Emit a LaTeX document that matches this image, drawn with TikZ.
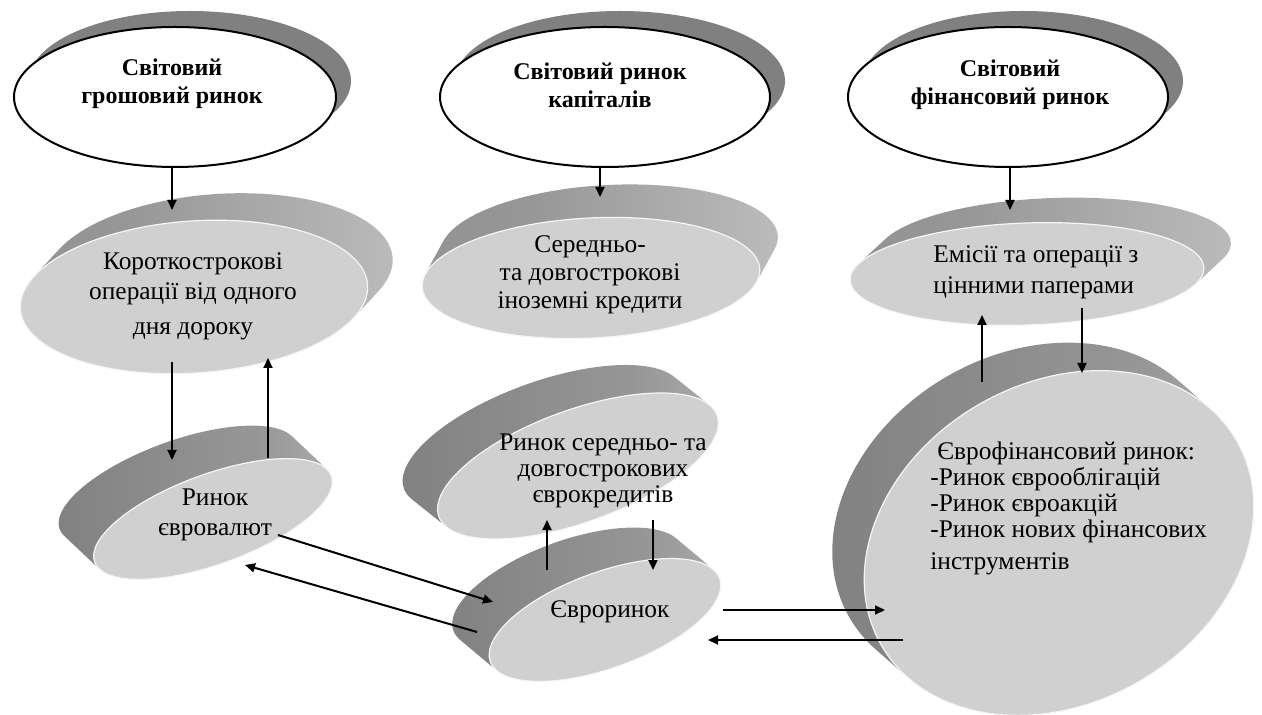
\documentclass[tikz,border=0pt]{standalone}
\usepackage{fontspec}
\setmainfont{Liberation Serif}
\usetikzlibrary{arrows.meta}
\definecolor{facegray}{RGB}{208,208,208}
\definecolor{shadowgray}{RGB}{128,128,128}
\definecolor{ga}{RGB}{195,195,195}
\definecolor{gb}{RGB}{125,125,125}
\definecolor{gc}{RGB}{150,150,150}
\definecolor{gd}{RGB}{212,212,212}
\definecolor{ge}{RGB}{140,140,140}
\definecolor{gf}{RGB}{150,150,150}
\definecolor{gg}{RGB}{195,195,195}
\definecolor{gh}{RGB}{228,228,228}
\pgfdeclarehorizontalshading{rimleft}{100bp}{color(0bp)=(ga); color(20bp)=(gb); color(60bp)=(gc); color(100bp)=(gd)}
\pgfdeclarehorizontalshading{rimright}{100bp}{color(0bp)=(ge); color(40bp)=(gf); color(80bp)=(gg); color(100bp)=(gh)}
\tikzset{
  face/.style={fill=facegray, draw=white!80!facegray, line width=0.6pt},
  rimL/.style={shade, shading=rimleft, draw=none},
  rimR/.style={shade, shading=rimright, draw=none},
  topell/.style={fill=white, draw=black, line width=1pt},
  topshadow/.style={fill=shadowgray, draw=none},
  titletext/.style={font=\fontsize{12}{14}\selectfont\bfseries, align=center, inner sep=0pt},
  bodytext/.style={font=\fontsize{12.7}{15}\selectfont, inner sep=0pt},
  arr/.style={-{Triangle[length=5pt,width=4.5pt]}, line width=1pt, black},
}
% #1 cx, #2 cy, #3 a, #4 b, #5 rotation, #6 dx, #7 dy, #8 rim style
\newcommand\rimdisk[8]{%
  \pgfmathsetmacro\uu{(#6)*cos(#5)-(#7)*sin(#5)}%
  \pgfmathsetmacro\ww{(#6)*sin(#5)+(#7)*cos(#5)}%
  \pgfmathsetmacro\nuu{-1*(\uu)}%
  \pgfmathsetmacro\nww{-1*(\ww)}%
  \pgfmathsetmacro\tz{atan2(-(#4)*(\uu),(#3)*(\ww))}%
  \pgfmathsetmacro\tza{\tz+180}%
  \pgfmathsetmacro\tzb{\tz+360}%
  \pgfmathsetmacro\px{(#3)*cos(\tz)}%
  \pgfmathsetmacro\py{(#4)*sin(\tz)}%
  \begin{scope}[shift={(#1,#2)}, rotate=#5]
    \path[#8] (\px,\py) -- ++(\uu,\ww)
      arc[start angle=\tz, end angle=\tza, x radius=#3, y radius=#4]
      -- ++(\nuu,\nww)
      arc[start angle=\tza, end angle=\tzb, x radius=#3, y radius=#4] -- cycle;
    \path[face] (0,0) ellipse[x radius=#3, y radius=#4];
  \end{scope}
}
\begin{document}
\begin{tikzpicture}[x=0.5pt, y=-0.5pt]
\useasboundingbox (0,0) rectangle (1262,715);

% top ellipses
\fill[topshadow] (190,81) ellipse[x radius=161, y radius=70];
\path[topell] (175,97) ellipse[x radius=161, y radius=70];
\coordinate (e1) at (175,97);
\fill[topshadow] (620,81) ellipse[x radius=165, y radius=70];
\path[topell] (605,97) ellipse[x radius=165, y radius=70];
\coordinate (e2) at (605,97);
\fill[topshadow] (1023,81) ellipse[x radius=160, y radius=70];
\path[topell] (1008,97) ellipse[x radius=160, y radius=70];
\coordinate (e3) at (1008,97);

\node[titletext] (t1) at (172,84) {Світовий\\грошовий ринок};
\node[titletext] (t2) at (600,85) {Світовий ринок\\капіталів};
\node[titletext] (t3) at (1010,85) {Світовий\\фінансовий ринок};

% middle row disks (extruded up-right)
\rimdisk{194}{297}{174}{76}{4}{25}{-27}{rimR}
\coordinate (d1) at (194,297);
\rimdisk{591}{278}{169}{60}{3}{18}{-33}{rimR}
\coordinate (d2) at (591,278);
\rimdisk{1027}{274}{177}{51}{2}{27}{-25}{rimR}
\coordinate (d3) at (1027,274);

% lower disks (extruded up-left)
\rimdisk{213}{519}{126}{45}{20}{-35}{-33}{rimL}
\coordinate (d4) at (213,519);
\rimdisk{578}{466}{148}{56}{20}{-35}{-28}{rimL}
\coordinate (d5) at (578,466);
\rimdisk{605}{620}{122}{48}{20}{-37}{-31}{rimL}
\coordinate (d6) at (605,620);
\rimdisk{1059}{543}{205}{160}{30}{-32}{-28}{rimL}
\coordinate (d7) at (1059,543);

% texts
\node[bodytext, align=center] (m1) at (193,296) {Короткострокові\\операції від одного\\[2.5pt]дня дороку};
\node[bodytext, align=center, font=\fontsize{12.7}{14}\selectfont] (m2) at (590,275) {Середньо-\\та довгострокові\\іноземні кредити};
\node[bodytext, align=left, anchor=west, font=\fontsize{12.7}{15.5}\selectfont] (m3) at (933,272) {Емісії та операції з\\цінними паперами};
\node[bodytext, align=center] (m4) at (215,515) {Ринок\\євровалют};
\node[bodytext, align=center, font=\fontsize{12.7}{13}\selectfont] (m5) at (603,471) {Ринок середньо- та\\довгострокових\\єврокредитів};
\node[bodytext] (m6) at (610,612) {Євроринок};
\node[bodytext, align=left, anchor=west, font=\fontsize{12.7}{13}\selectfont] (m7) at (930,508) {\hspace*{3.5pt}Єврофінансовий ринок:\\-Ринок єврооблігацій\\-Ринок євроакцій\\-Ринок нових фінансових\\[3pt]інструментів};

% arrow end points
\coordinate (a1s) at (172,167); \coordinate (a1e) at (172,210);
\coordinate (a2s) at (600,167); \coordinate (a2e) at (600,197);
\coordinate (a3s) at (1010,167); \coordinate (a3e) at (1010,210);
\coordinate (b1s) at (172,362); \coordinate (b1e) at (172,460);
\coordinate (b2s) at (268,458); \coordinate (b2e) at (268,358);
\coordinate (c1s) at (278,535); \coordinate (c1e) at (493,602);
\coordinate (c2s) at (477,632); \coordinate (c2e) at (245,565);
\coordinate (c3s) at (547,570); \coordinate (c3e) at (547,520);
\coordinate (c4s) at (653,520); \coordinate (c4e) at (653,570);
\coordinate (c5s) at (723,610); \coordinate (c5e) at (885,610);
\coordinate (c6s) at (903,640); \coordinate (c6e) at (708,640);
\coordinate (c7s) at (982,382); \coordinate (c7e) at (982,315);
\coordinate (c8s) at (1082,308); \coordinate (c8e) at (1082,373);

\draw[arr] (a1s) -- (a1e);
\draw[arr] (a2s) -- (a2e);
\draw[arr] (a3s) -- (a3e);
\draw[arr] (b1s) -- (b1e);
\draw[arr] (b2s) -- (b2e);
\draw[arr] (c1s) -- (c1e);
\draw[arr] (c2s) -- (c2e);
\draw[arr] (c3s) -- (c3e);
\draw[arr] (c4s) -- (c4e);
\draw[arr] (c5s) -- (c5e);
\draw[arr] (c6s) -- (c6e);
\draw[arr] (c7s) -- (c7e);
\draw[arr] (c8s) -- (c8e);
\end{tikzpicture}
\end{document}
